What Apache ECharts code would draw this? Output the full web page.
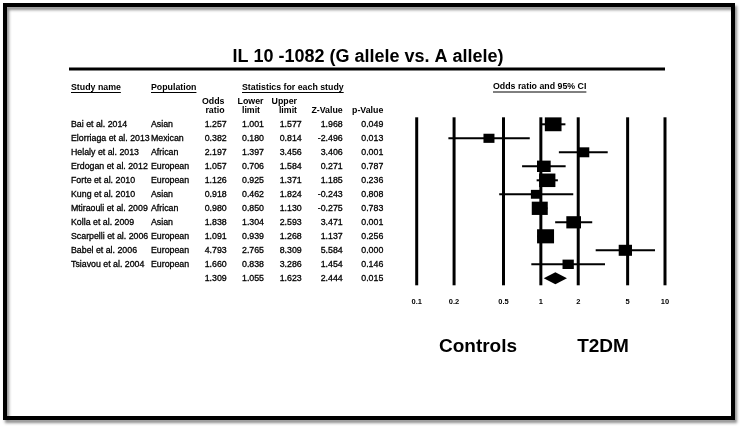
<!DOCTYPE html>
<html><head><meta charset="utf-8">
<script src="https://cdn.jsdelivr.net/npm/echarts@6/dist/echarts.min.js"></script>
<style>html,body{margin:0;padding:0;background:#fff}#c{width:740px;height:432px}</style>
</head><body><div id="c"></div>
<script>
// ---- data ----
const studies = ['Bai et al. 2014','Elorriaga et al. 2013','Helaly et al. 2013','Erdogan et al. 2012','Forte et al. 2010','Kung et al. 2010','Mtiraouli et al. 2009','Kolla et al. 2009','Scarpelli et al. 2006','Babel et al. 2006','Tsiavou et al. 2004'];
const populations = ['Asian','Mexican','African','European','European','Asian','African','Asian','European','European','European'];
const oddsRatio = [1.257,0.382,2.197,1.057,1.126,0.918,0.980,1.838,1.091,4.793,1.660];
const lowerLimit = [1.001,0.180,1.397,0.706,0.925,0.462,0.850,1.304,0.939,2.765,0.838];
const upperLimit = [1.577,0.814,3.456,1.584,1.371,1.824,1.130,2.593,1.268,8.309,3.286];
const zValue = [1.968,-2.496,3.406,0.271,1.185,-0.243,-0.275,3.471,1.137,5.584,1.454];
const pValue = [0.049,0.013,0.001,0.787,0.236,0.808,0.783,0.001,0.256,0.000,0.146];
const relWeight = [16.7,11,12,13.7,16.3,10.7,16,14.7,17,13.3,11.3];
const pooledStats = [1.309,1.055,1.623,2.444,0.015]; // OR, lower, upper, Z, p
const tickValues = [0.1,0.2,0.5,1,2,5,10];
const tickLabels = ['0.1','0.2','0.5','1','2','5','10'];
const titleText = 'IL 10 -1082 (G allele vs. A allele)';

// ---- layout ----
const FONT = '"Liberation Sans", Arial, sans-serif';
const nRows = studies.length + 1;
const pooledRow = studies.length;
const colStudy = 71, colPop = 151;
const numCols = [226.7, 264, 301.7, 342.7, 383.3];

const mctx = document.createElement('canvas').getContext('2d');
function textW(t, size, weight) { mctx.font = (weight||'normal') + ' ' + size + 'px ' + FONT; return mctx.measureText(t).width; }

const chart = echarts.init(document.getElementById('c'), null, {renderer:'canvas'});

function txt(text, x, y, size, weight, align, extra) {
  return Object.assign({type:'text', x, y, z:10, style:{text, fill:'#000', fontSize:size, fontWeight:weight||'normal', fontFamily:FONT, align:align||'left', verticalAlign:'middle'}}, extra||{});
}
function underlined(text, x, y, size) {
  const w = textW(text, size, 'bold');
  return [txt(text, x, y, size, 'bold', 'left'),
    {type:'line', z:10, shape:{x1:x, y1:y+5, x2:x+w, y2:y+5}, style:{stroke:'#000', lineWidth:1}}];
}

const graphics = [
  {type:'rect', z:1, shape:{x:5, y:5, width:728, height:413}, style:{fill:'none', stroke:'#000', lineWidth:4, shadowBlur:3, shadowOffsetX:2, shadowOffsetY:3, shadowColor:'rgba(0,0,0,0.45)'}},
  txt(titleText, 368, 57, 18, 'bold', 'center'),
  {type:'line', z:10, shape:{x1:69, y1:69, x2:665, y2:69}, style:{stroke:'#000', lineWidth:3}},
  ...underlined('Study name', 71, 87.5, 8.8),
  ...underlined('Population', 151, 87.5, 8.8),
  ...underlined('Statistics for each study', 242, 87.5, 8.8),
  ...underlined('Odds ratio and 95% CI', 493, 87, 8.8),
  txt('Odds', 224.5, 101.7, 8.8, 'bold', 'right'),
  txt('ratio', 224.5, 110.7, 8.8, 'bold', 'right'),
  txt('Lower', 250.5, 101.7, 8.8, 'bold', 'center'),
  txt('limit', 251, 110.7, 8.8, 'bold', 'center'),
  txt('Upper', 297, 101.7, 8.8, 'bold', 'right'),
  txt('limit', 297, 110.7, 8.8, 'bold', 'right'),
  txt('Z-Value', 342.7, 110.7, 8.8, 'bold', 'right'),
  txt('p-Value', 383.3, 110.7, 8.8, 'bold', 'right'),
  txt('Controls', 478, 347, 19, 'bold', 'center'),
  txt('T2DM', 603, 347, 19, 'bold', 'center')
];

const option = {
  animation:false,
  backgroundColor:'#fff',
  grid:{left:416.7, right:75, top:117.3, height:168},
  xAxis:{type:'log', logBase:10, min:0.1, max:10, axisLine:{show:false}, axisTick:{show:false}, axisLabel:{show:false}, splitLine:{show:false}},
  yAxis:{type:'value', min:-0.5, max:nRows-0.5, inverse:true, show:false, splitLine:{show:false}},
  graphic: graphics,
  series:[
    { // reference lines and tick labels
      type:'custom', z:1, silent:true,
      data: tickValues.map((v,i)=>[v, -0.5, nRows-0.5, i]),
      encode:{x:0, y:[1,2]},
      renderItem:(params, api)=>{
        const v = api.value(0);
        const top = api.coord([v, -0.5]), bot = api.coord([v, nRows-0.5]);
        return {type:'group', children:[
          {type:'line', shape:{x1:top[0], y1:top[1], x2:bot[0], y2:bot[1]}, style:{stroke:'#000', lineWidth:3}},
          {type:'text', x:bot[0], y:bot[1]+16.4, style:{text:tickLabels[api.value(3)], fill:'#000', fontSize:7.5, fontWeight:'bold', fontFamily:FONT, align:'center', verticalAlign:'middle'}}
        ]};
      }
    },
    { // confidence intervals
      type:'custom', z:2, silent:true,
      data: studies.map((s,i)=>[lowerLimit[i], upperLimit[i], i]),
      encode:{x:[0,1], y:2},
      renderItem:(params, api)=>{
        const a = api.coord([api.value(0), api.value(2)]), b = api.coord([api.value(1), api.value(2)]);
        return {type:'line', shape:{x1:a[0], y1:a[1], x2:b[0], y2:b[1]}, style:{stroke:'#000', lineWidth:2}};
      }
    },
    { // study boxes
      type:'scatter', z:3, silent:true, symbol:'rect',
      itemStyle:{color:'#000', opacity:1},
      emphasis:{disabled:true},
      data: oddsRatio.map((v,i)=>({value:[v,i], symbolSize:[relWeight[i], relWeight[i]*0.83]}))
    },
    { // pooled diamond
      type:'custom', z:3, silent:true,
      data:[[pooledStats[1], pooledStats[0], pooledStats[2], pooledRow]],
      encode:{x:[0,1,2], y:3},
      renderItem:(params, api)=>{
        const y = api.value(3);
        const l = api.coord([api.value(0), y]), m = api.coord([api.value(1), y]), r = api.coord([api.value(2), y]);
        return {type:'polygon', shape:{points:[[l[0], l[1]], [m[0], m[1]-6], [r[0], r[1]], [m[0], m[1]+6]]}, style:{fill:'#000'}};
      }
    },
    { // table text
      type:'custom', z:5, silent:true,
      data: Array.from({length:nRows}, (_, i)=>[1, i]),
      encode:{x:0, y:1},
      renderItem:(params, api)=>{
        const i = api.value(1);
        const y = api.coord([1, i])[1];
        const isPooled = i === pooledRow;
        const vals = isPooled ? pooledStats : [oddsRatio[i], lowerLimit[i], upperLimit[i], zValue[i], pValue[i]];
        const mk = (t, x, al)=>({type:'text', x, y, style:{text:t, fill:'#000', fontSize:8.8, fontFamily:FONT, align:al, verticalAlign:'middle', stroke:'#000', lineWidth:0.3}});
        const ch = [];
        if (!isPooled) { ch.push(mk(studies[i], colStudy, 'left')); ch.push(mk(populations[i], colPop, 'left')); }
        vals.forEach((v,k)=>ch.push(mk(v.toFixed(3), numCols[k], 'right')));
        return {type:'group', children:ch};
      }
    }
  ]
};
chart.setOption(option);
</script>
</body></html>
